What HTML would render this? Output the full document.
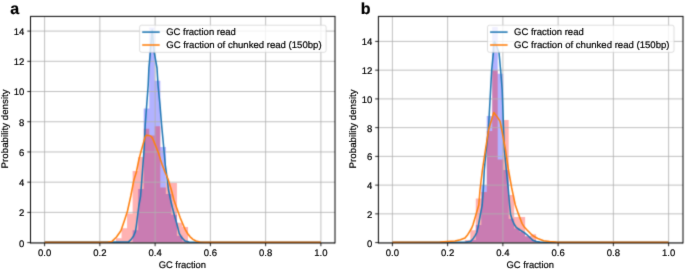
<!DOCTYPE html>
<html><head><meta charset="utf-8"><style>
html,body{margin:0;padding:0;background:#fff;width:685px;height:269px;overflow:hidden}
svg{display:block}
text{font-family:"Liberation Sans",sans-serif;text-rendering:geometricPrecision;fill:#000;stroke:#000;stroke-width:0.2}
</style></head><body>
<svg width="685" height="269" viewBox="0 0 685 269">
<defs><filter id="bl" x="0" y="0" width="685" height="269" filterUnits="userSpaceOnUse" color-interpolation-filters="sRGB"><feConvolveMatrix order="3" kernelMatrix="0.02250 0.10500 0.02250 0.10500 0.49000 0.10500 0.02250 0.10500 0.02250" divisor="1" edgeMode="duplicate"/></filter><filter id="tb" x="0" y="0" width="685" height="269" filterUnits="userSpaceOnUse" color-interpolation-filters="sRGB"><feConvolveMatrix order="3" kernelMatrix="0.00640 0.06720 0.00640 0.06720 0.70560 0.06720 0.00640 0.06720 0.00640" divisor="1" edgeMode="duplicate"/></filter></defs>
<g filter="url(#bl)">
<rect width="685" height="269" fill="#fff"/>
<clipPath id="ca"><rect x="30.5" y="16.4" width="304.5" height="226.6"/></clipPath>
<g clip-path="url(#ca)">
<polygon points="116,243 116,242.3 121.54,242.3 121.54,242.3 127.08,242.3 127.08,242 132.62,242 132.62,230.3 138.16,230.3 138.16,189 143.7,189 143.7,108.5 149.24,108.5 149.24,27.6 154.78,27.6 154.78,80.7 160.32,80.7 160.32,147.1 165.86,147.1 165.86,194 171.4,194 171.4,214.7 176.94,214.7 176.94,235.8 182.48,235.8 182.48,241.2 188.02,241.2 188.02,243" fill="rgba(0,0,255,0.3)"/>
<polygon points="116,243 116,238.3 121.54,238.3 121.54,228.2 127.08,228.2 127.08,213.4 132.62,213.4 132.62,171 138.16,171 138.16,156.9 143.7,156.9 143.7,128.7 149.24,128.7 149.24,135.4 154.78,135.4 154.78,126.2 160.32,126.2 160.32,187.4 165.86,187.4 165.86,182.9 171.4,182.9 171.4,182.9 176.94,182.9 176.94,222.8 182.48,222.8 182.48,226.9 188.02,226.9 188.02,243" fill="rgba(255,0,0,0.3)"/>
<path d="M44.6 16.4V243M99.86 16.4V243M155.12 16.4V243M210.38 16.4V243M265.64 16.4V243M320.9 16.4V243M30.5 242.6H335M30.5 212.39H335M30.5 182.17H335M30.5 151.96H335M30.5 121.74H335M30.5 91.53H335M30.5 61.32H335M30.5 31.1H335" stroke="#b0b0b0" stroke-width="0.8" fill="none"/>
</g>
<clipPath id="da"><rect x="30.5" y="16.4" width="304.5" height="226.9"/></clipPath>
<g clip-path="url(#da)">
<polyline points="44.6,242.1 120,242.1 128.5,241.9 131,239.6 133.6,236 135.4,231.6 136.3,226 137.3,218 138.8,206 140.6,196 142.4,172 144.2,148 145.2,125 148.2,85 148.9,68 150.3,52.9 151.3,40 152.2,30 153,40 154.3,52.9 157,68 158,85 160,105 161.6,125 163.5,145 165.3,165 166.7,175 168.5,190 170.6,200 172.5,208 174.6,216 176.6,223 177.9,228 179.2,233.4 181.7,237.6 185.1,241 189,242 200,242.2 320.9,242.2" fill="none" stroke="#1f77b4" stroke-width="1.55" stroke-linejoin="round"/>
<polyline points="44.6,242.3 100,242.2 108,241.9 112,241.4 116.5,237 120.9,230.7 124.6,220 127.5,211 130.8,196 133.9,180 136.4,172 138.8,160 140.9,152 143.1,144.1 144.9,137.8 145.8,135.8 146.7,135.2 149,135.4 151.2,136.4 152.6,138.5 153.9,141.4 155.6,145.8 157.4,150.3 158.6,153.3 160.6,160 162.3,165 165,172 168,179 171.4,190 173.9,200 177,208.7 180.1,217.6 182.6,223.5 185.1,229.3 187.6,233.5 190.1,236.8 193,239.3 196,241 200,241.9 205,242.3 320.9,242.3" fill="none" stroke="#ff7f0e" stroke-width="1.55" stroke-linejoin="round"/>
</g>
<path d="M30.5 243.42V16.4M30.08 16.4H335.42M335 16.4V243.42" fill="none" stroke="#000" stroke-width="1"/>
<path d="M30.5 243H335" fill="none" stroke="#000" stroke-width="1"/>
<path d="M44.6 243V246.2M99.86 243V246.2M155.12 243V246.2M210.38 243V246.2M265.64 243V246.2M320.9 243V246.2M30.5 242.6h-3.2M30.5 212.39h-3.2M30.5 182.17h-3.2M30.5 151.96h-3.2M30.5 121.74h-3.2M30.5 91.53h-3.2M30.5 61.32h-3.2M30.5 31.1h-3.2" stroke="#000" stroke-width="0.85" fill="none"/>
<rect x="139.6" y="25.2" width="186.5" height="27.1" rx="2" ry="2" fill="#fff" fill-opacity="0.8" stroke="#cccccc" stroke-opacity="0.8" stroke-width="0.85"/>
<path d="M142.2 32.1H159.7" stroke="#1f77b4" stroke-width="1.55"/>
<path d="M142.2 45H159.7" stroke="#ff7f0e" stroke-width="1.55"/>
<clipPath id="cb"><rect x="378.4" y="16.4" width="304.6" height="226.6"/></clipPath>
<g clip-path="url(#cb)">
<polygon points="459.33,243 459.33,242.3 464.82,242.3 464.82,241.6 470.3,241.6 470.3,240 475.78,240 475.78,225 481.27,225 481.27,185.2 486.75,185.2 486.75,116 492.23,116 492.23,27 497.71,27 497.72,73.7 503.2,73.7 503.2,170 508.68,170 508.68,218.8 514.16,218.8 514.16,228.5 519.65,228.5 519.65,232 525.13,232 525.13,236.5 530.61,236.5 530.61,240 536.1,240 536.1,241.8 541.58,241.8 541.58,243" fill="rgba(0,0,255,0.3)"/>
<polygon points="459.33,243 459.33,242.6 464.82,242.6 464.82,240 470.3,240 470.3,230.2 475.78,230.2 475.78,198.4 481.27,198.4 481.27,192.1 486.75,192.1 486.75,131.1 492.23,131.1 492.23,70.5 497.71,70.5 497.72,159.6 503.2,159.6 503.2,120 508.68,120 508.68,195.1 514.16,195.1 514.16,216.9 519.65,216.9 519.65,216.9 525.13,216.9 525.13,236 530.61,236 530.61,234.3 536.1,234.3 536.1,242.6 541.58,242.6 541.58,243" fill="rgba(255,0,0,0.3)"/>
<path d="M392.4 16.4V243M447.64 16.4V243M502.88 16.4V243M558.12 16.4V243M613.36 16.4V243M668.6 16.4V243M378.4 242.6H683M378.4 213.86H683M378.4 185.12H683M378.4 156.38H683M378.4 127.64H683M378.4 98.9H683M378.4 70.16H683M378.4 41.42H683" stroke="#b0b0b0" stroke-width="0.8" fill="none"/>
</g>
<clipPath id="db"><rect x="378.4" y="16.4" width="304.6" height="226.9"/></clipPath>
<g clip-path="url(#db)">
<polyline points="392.4,242.3 455,242.3 466,242 470.8,241.2 473.5,238.2 475.3,235.3 476.8,232.5 478.3,226 480.5,214 482.2,205 483.4,188 484.3,170 486,152 487.3,140 488.4,130 489.5,110 490.6,90 491.7,70 493.3,53.4 494,42.5 494.6,41.5 496.5,46 499,52.5 500.6,70 502.2,90 502.9,110 503.6,130 504.4,150 506.3,170 508.2,188 509.6,205 510.6,214.5 512.5,220.5 514.5,224.8 516.2,227.3 520,230 524.3,232.6 527,234.8 529.6,237.2 533.3,240.6 536.3,241.6 540,242 545,242.3 668.6,242.3" fill="none" stroke="#1f77b4" stroke-width="1.55" stroke-linejoin="round"/>
<polyline points="392.4,242.3 440,242 455,241 460.4,239.7 465,238 467.7,234.7 469.7,231.3 471.7,228 472.9,225 478.8,205 480,190 482.4,170 485.4,150 488.6,130 490.3,124 493.8,112.5 497.9,117.9 500.1,121.4 501.8,130 505.5,150 508.5,170 511.7,188 515.3,205 518.4,213.9 522.1,223.6 524.5,227.3 527.3,230.3 532.5,235.5 537.7,238.5 543.7,240.7 549.6,241.6 556,242.1 668.6,242.3" fill="none" stroke="#ff7f0e" stroke-width="1.55" stroke-linejoin="round"/>
</g>
<path d="M378.4 243.42V16.4M377.98 16.4H683.42M683 16.4V243.42" fill="none" stroke="#000" stroke-width="1"/>
<path d="M378.4 243H683" fill="none" stroke="#000" stroke-width="1"/>
<path d="M392.4 243V246.2M447.64 243V246.2M502.88 243V246.2M558.12 243V246.2M613.36 243V246.2M668.6 243V246.2M378.4 242.6h-3.2M378.4 213.86h-3.2M378.4 185.12h-3.2M378.4 156.38h-3.2M378.4 127.64h-3.2M378.4 98.9h-3.2M378.4 70.16h-3.2M378.4 41.42h-3.2" stroke="#000" stroke-width="0.85" fill="none"/>
<rect x="487.5" y="25.2" width="186.5" height="27.1" rx="2" ry="2" fill="#fff" fill-opacity="0.8" stroke="#cccccc" stroke-opacity="0.8" stroke-width="0.85"/>
<path d="M490.1 32.1H507.6" stroke="#1f77b4" stroke-width="1.55"/>
<path d="M490.1 45H507.6" stroke="#ff7f0e" stroke-width="1.55"/>
</g>
<g filter="url(#tb)">
<text x="38" y="256" font-size="9.5">0.0</text>
<text x="93.26" y="256" font-size="9.5">0.2</text>
<text x="148.52" y="256" font-size="9.5">0.4</text>
<text x="203.78" y="256" font-size="9.5">0.6</text>
<text x="259.04" y="256" font-size="9.5">0.8</text>
<text x="314.3" y="256" font-size="9.5">1.0</text>
<text x="19.02" y="246.5" font-size="9.5">0</text>
<text x="19.02" y="216.29" font-size="9.5">2</text>
<text x="19.02" y="186.07" font-size="9.5">4</text>
<text x="19.02" y="155.86" font-size="9.5">6</text>
<text x="19.02" y="125.64" font-size="9.5">8</text>
<text x="13.74" y="95.43" font-size="9.5">10</text>
<text x="13.74" y="65.22" font-size="9.5">12</text>
<text x="13.74" y="35" font-size="9.5">14</text>
<text x="158.7" y="267.8" font-size="9.5" textLength="47.3" lengthAdjust="spacingAndGlyphs">GC fraction</text>
<g transform="translate(7.9 128.9) rotate(-90)"><text x="-39.55" y="0" font-size="9.5" textLength="79.1" lengthAdjust="spacingAndGlyphs">Probability density</text></g>
<text x="166.2" y="34.9" font-size="9.5" textLength="69.6" lengthAdjust="spacingAndGlyphs">GC fraction read</text>
<text x="166.2" y="47.8" font-size="9.5" textLength="155.4" lengthAdjust="spacingAndGlyphs">GC fraction of chunked read (150bp)</text>
<text x="10.3" y="13.7" font-size="16" font-weight="bold" stroke-width="0">a</text>
<text x="385.8" y="256" font-size="9.5">0.0</text>
<text x="441.04" y="256" font-size="9.5">0.2</text>
<text x="496.28" y="256" font-size="9.5">0.4</text>
<text x="551.52" y="256" font-size="9.5">0.6</text>
<text x="606.76" y="256" font-size="9.5">0.8</text>
<text x="662" y="256" font-size="9.5">1.0</text>
<text x="366.92" y="246.5" font-size="9.5">0</text>
<text x="366.92" y="217.76" font-size="9.5">2</text>
<text x="366.92" y="189.02" font-size="9.5">4</text>
<text x="366.92" y="160.28" font-size="9.5">6</text>
<text x="366.92" y="131.54" font-size="9.5">8</text>
<text x="361.64" y="102.8" font-size="9.5">10</text>
<text x="361.64" y="74.06" font-size="9.5">12</text>
<text x="361.64" y="45.32" font-size="9.5">14</text>
<text x="506.6" y="267.8" font-size="9.5" textLength="47.3" lengthAdjust="spacingAndGlyphs">GC fraction</text>
<g transform="translate(355.8 128.9) rotate(-90)"><text x="-39.55" y="0" font-size="9.5" textLength="79.1" lengthAdjust="spacingAndGlyphs">Probability density</text></g>
<text x="514.1" y="34.9" font-size="9.5" textLength="69.6" lengthAdjust="spacingAndGlyphs">GC fraction read</text>
<text x="514.1" y="47.8" font-size="9.5" textLength="155.4" lengthAdjust="spacingAndGlyphs">GC fraction of chunked read (150bp)</text>
<text x="360.8" y="13.7" font-size="16" font-weight="bold" stroke-width="0">b</text>
</g>
</svg>
</body></html>
